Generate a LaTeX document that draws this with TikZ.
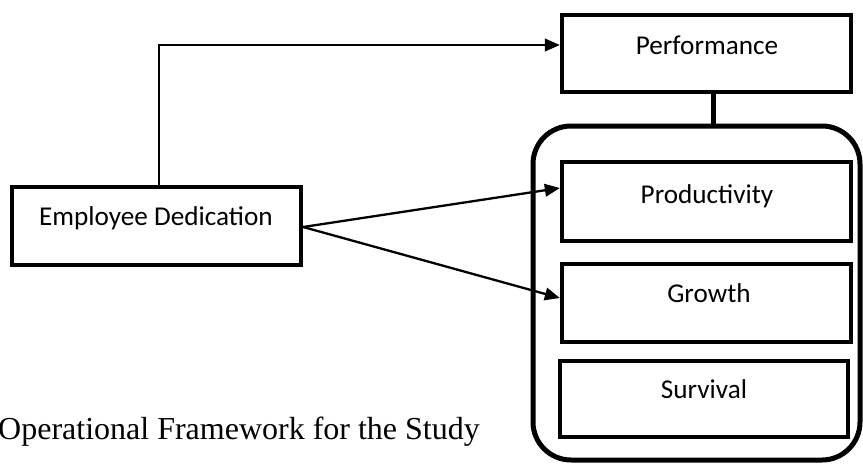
\documentclass[tikz,border=0pt]{standalone}
\usepackage{fontspec}
\setmainfont{Liberation Serif}
\newfontfamily\boxfont{Carlito}
\usetikzlibrary{arrows.meta}
\begin{document}
\begin{tikzpicture}[x=1pt,y=-1pt,
  boxnode/.style={draw,line width=4.3pt,rectangle,inner sep=0pt,minimum width=#1},
  boxtxt/.style={font=\boxfont\fontsize{27.2}{30}\selectfont,anchor=base,inner sep=0pt},
  conn/.style={line width=2.3pt,-{Triangle[length=15pt,width=12.5pt]}}]
\useasboundingbox (0,0) rectangle (863,464);
% container
\node[draw,line width=5pt,rounded corners=38pt,inner sep=0pt,minimum width=327pt,minimum height=334pt] (cont) at (696.5,293) {};
% boxes
\node[boxnode=289pt,minimum height=78pt] (emp) at (156.5,226) {};
\node[boxnode=289pt,minimum height=77pt] (perf) at (706.5,53.5) {};
\node[boxnode=289pt,minimum height=79pt] (prod) at (706.5,201.5) {};
\node[boxnode=289pt,minimum height=78pt] (grow) at (706.5,303) {};
\node[boxnode=288pt,minimum height=76pt] (surv) at (704,399) {};
% texts
\node[boxtxt] (empT) at (156,225) {Employee Dedication};
\node[boxtxt] (perfT) at (707,54) {Performance};
\node[boxtxt] (prodT) at (707,203) {Productivity};
\node[boxtxt] (growT) at (709,302) {Growth};
\node[boxtxt] (survT) at (704,398) {Survival};
% caption
\node[font=\fontsize{32}{36}\selectfont,anchor=base west,inner sep=0pt] (cap) at (-2,439) {Operational Framework for the Study};
% connectors
\coordinate (elb) at (159,45);
\draw[conn] (emp.north -| elb) -- (elb) -- (perf.west |- elb);
\coordinate (pa) at (0,188);
\coordinate (ga) at (0,298);
\coordinate (src) at (0,227);
\draw[conn] (emp.east |- src) -- (prod.west |- pa);
\draw[conn] (emp.east |- src) -- (grow.west |- ga);
\coordinate (vl) at (713,0);
\draw[line width=5pt] (perf.south -| vl) -- (cont.north -| vl);
\end{tikzpicture}
\end{document}
